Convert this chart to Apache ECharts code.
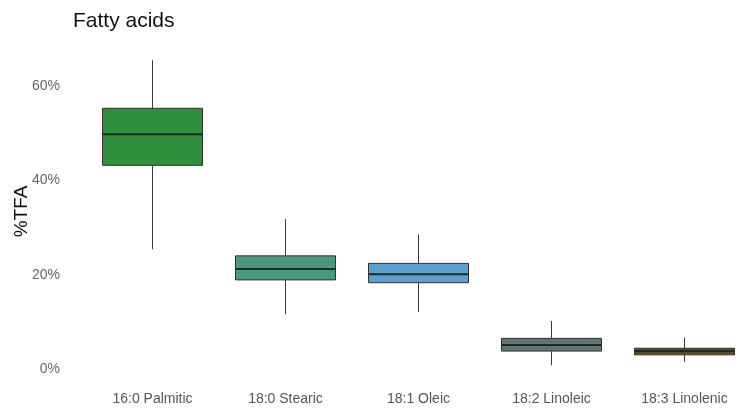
<!DOCTYPE html>
<html>
<head>
<meta charset="utf-8">
<script src="https://cdn.jsdelivr.net/npm/echarts@6/dist/echarts.min.js"></script>
<style>html,body{margin:0;padding:0;background:#fff}#c{width:743px;height:411px}</style>
</head>
<body>
<div id="c"></div>
<script>
const categories = ['16:0 Palmitic', '18:0 Stearic', '18:1 Oleic', '18:2 Linoleic', '18:3 Linolenic'];
const lowerWhisker = [25.4, 11.6, 12.1, 0.8, 1.5];
const q1 = [43.2, 18.9, 18.3, 3.8, 3.0];
const median = [49.8, 21.2, 20.1, 5.1, 3.8];
const q3 = [55.3, 24.0, 22.4, 6.5, 4.4];
const upperWhisker = [65.5, 31.8, 28.5, 10.2, 6.7];
const colors = ['#2f8f3d', '#4b9a7d', '#5b9fd1', '#5e7574', '#5b4b26'];
const yTicks = [0, 20, 40, 60];

const boxRows = categories.map((c, i) => [i, lowerWhisker[i], q1[i], median[i], q3[i], upperWhisker[i]]);

const chart = echarts.init(document.getElementById('c'), null, { renderer: 'canvas' });
chart.setOption({
  animation: false,
  textStyle: { fontFamily: 'Liberation Sans' },
  title: {
    text: 'Fatty acids', left: 68, top: 6,
    textStyle: { fontSize: 21, fontWeight: 'normal', color: '#111', fontFamily: 'Liberation Sans' }
  },
  grid: { left: 86, top: 39, width: 665, bottom: 42, outerBoundsMode: 'none', containLabel: false },
  xAxis: {
    type: 'category', data: categories,
    axisLine: { show: false }, axisTick: { show: false }, splitLine: { show: false },
    axisLabel: { color: '#555', fontSize: 14, margin: 23, fontFamily: 'Liberation Sans' }
  },
  yAxis: {
    type: 'value', min: 0, max: 70, interval: 20,
    axisLine: { show: false }, axisTick: { show: false }, splitLine: { show: false },
    axisLabel: {
      color: '#666', fontSize: 14, margin: 26, fontFamily: 'Liberation Sans',
      formatter: v => yTicks.includes(v) ? v + '%' : ''
    }
  },
  graphic: [{
    type: 'text', x: 21.5, y: 211.5, rotation: Math.PI / 2,
    style: { text: '%TFA', fontSize: 19, fill: '#111', fontFamily: 'Liberation Sans', align: 'center', verticalAlign: 'middle' }
  }],
  series: [
    {
      type: 'custom', data: boxRows,
      encode: { x: 0, y: [1, 2, 3, 4, 5] },
      renderItem: (params, api) => {
        const i = api.value(0);
        const pMin = api.coord([i, api.value(1)]);
        const pQ1 = api.coord([i, api.value(2)]);
        const pMed = api.coord([i, api.value(3)]);
        const pQ3 = api.coord([i, api.value(4)]);
        const pMax = api.coord([i, api.value(5)]);
        const half = api.size([1, 0])[0] * 0.376;
        const cx = pMed[0];
        return {
          type: 'group',
          children: [
            { type: 'line', shape: { x1: cx, y1: pMax[1], x2: cx, y2: pQ3[1] }, style: { stroke: '#3a3a3a', lineWidth: 1 } },
            { type: 'line', shape: { x1: cx, y1: pQ1[1], x2: cx, y2: pMin[1] }, style: { stroke: '#3a3a3a', lineWidth: 1 } },
            { type: 'rect', shape: { x: cx - half, y: pQ3[1], width: half * 2, height: pQ1[1] - pQ3[1] },
              style: { fill: colors[params.dataIndex], stroke: '#333', lineWidth: 1 } },
            { type: 'line', shape: { x1: cx - half, y1: pMed[1], x2: cx + half, y2: pMed[1] }, style: { stroke: '#1f2a22', lineWidth: 2 } }
          ]
        };
      }
    }
  ]
});
</script>
</body>
</html>
